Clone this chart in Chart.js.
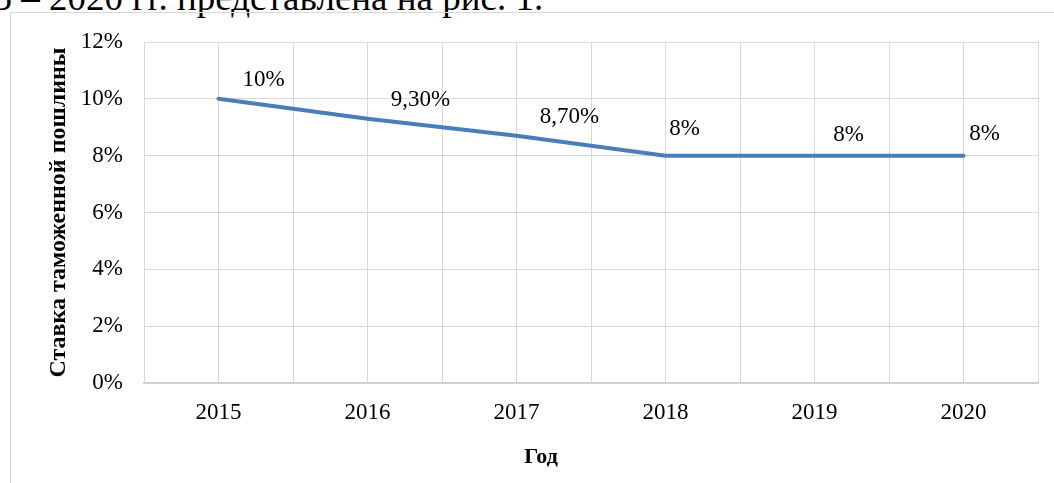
<!DOCTYPE html>
<html lang="ru">
<head>
  <meta charset="UTF-8">
  <title>Ставка таможенной пошлины</title>
  <script src="https://cdn.jsdelivr.net/npm/chart.js"></script>
  <style>
    body {
      margin: 0;
      background: #fff;
      font-family: "Liberation Serif", "Times New Roman", serif;
    }
    .page {
      position: relative;
      width: 1054px;
      height: 483px;
      overflow: hidden;
    }
    .caption {
      position: absolute;
      left: -62px;
      top: -21px;
      font-size: 37px;
      line-height: 37px;
      white-space: nowrap;
      color: #000;
    }
    .frame {
      position: absolute;
      left: 10px;
      top: 12px;
      width: 1100px;
      height: 520px;
      border: 1px solid #d9d9d9;
    }
    .chart-box {
      position: absolute;
      left: 0;
      top: 0;
      width: 1054px;
      height: 483px;
    }
    .x-title {
      position: absolute;
      left: 541px;
      top: 443px;
      transform: translateX(-50%);
      font-weight: bold;
      font-size: 22px;
      line-height: 26px;
    }
  </style>
</head>
<body>
<div class="page">
  <div class="caption">2015 – 2020 гг. представлена на рис. 1.</div>
  <div class="frame"></div>
  <div class="chart-box"><canvas id="rateChart"></canvas></div>
  <div class="x-title">Год</div>
</div>

<script>
const years = ['2015', '2016', '2017', '2018', '2019', '2020'];
const rates = [10, 9.3, 8.7, 8, 8, 8];
const rateLabels = ['10%', '9,30%', '8,70%', '8%', '8%', '8%'];
const yTicks = [0, 2, 4, 6, 8, 10, 12];

const serif = '"Liberation Serif", "Times New Roman", serif';

// hand-placed data labels, like in the original
const labelShift = [[45, -19], [53, -19], [53, -19], [19, -27], [34, -21], [21, -22]];

const dataLabels = {
  id: 'dataLabels',
  afterDatasetsDraw(chart) {
    const ctx = chart.ctx;
    const meta = chart.getDatasetMeta(0);
    ctx.save();
    ctx.font = Chart.helpers.toFont({ family: serif, size: 23 }).string;
    ctx.fillStyle = '#000';
    ctx.textAlign = 'center';
    ctx.textBaseline = 'middle';
    meta.data.forEach((pt, i) => {
      ctx.fillText(rateLabels[i], pt.x + labelShift[i][0], pt.y + labelShift[i][1]);
    });
    ctx.restore();
  }
};

new Chart(document.getElementById('rateChart'), {
  type: 'line',
  data: {
    datasets: [{
      data: rates.map((v, i) => ({ x: i, y: v })),
      borderColor: '#4a7ebb',
      borderWidth: 4,
      borderCapStyle: 'round',
      pointRadius: 0,
      tension: 0
    }]
  },
  options: {
    responsive: true,
    maintainAspectRatio: false,
    animation: false,
    layout: { padding: { left: 40, top: 42, right: 14, bottom: 0 } },
    plugins: { legend: { display: false }, tooltip: { enabled: false } },
    scales: {
      x: {
        type: 'linear',
        min: -0.5,
        max: 5.5,
        afterBuildTicks(s) {
          const t = [];
          for (let i = 0; i <= years.length * 2; i++) t.push({ value: -0.5 + i * 0.5 });
          s.ticks = t;
        },
        afterFit(s) { s.height = 100; },
        grid: { color: '#d9d9d9', drawTicks: false },
        border: { color: '#d0d0d0', width: 2 },
        ticks: {
          autoSkip: false,
          maxRotation: 0,
          padding: 16,
          color: '#000',
          font: { family: serif, size: 23 },
          callback: v => Number.isInteger(v) ? years[v] : ''
        }
      },
      y: {
        min: 0,
        max: 12,
        afterBuildTicks(s) { s.ticks = yTicks.map(v => ({ value: v })); },
        afterFit(s) { s.width = 104; },
        grid: { color: '#d9d9d9', drawTicks: false },
        border: { display: false },
        ticks: {
          padding: 21,
          color: '#000',
          font: { family: serif, size: 23 },
          callback: v => v + '%'
        },
        title: {
          display: true,
          text: 'Ставка таможенной пошлины',
          color: '#000',
          font: { family: serif, size: 24, weight: 'bold' },
          padding: { top: 4, bottom: 0 }
        }
      }
    }
  },
  plugins: [dataLabels]
});
</script>
</body>
</html>
